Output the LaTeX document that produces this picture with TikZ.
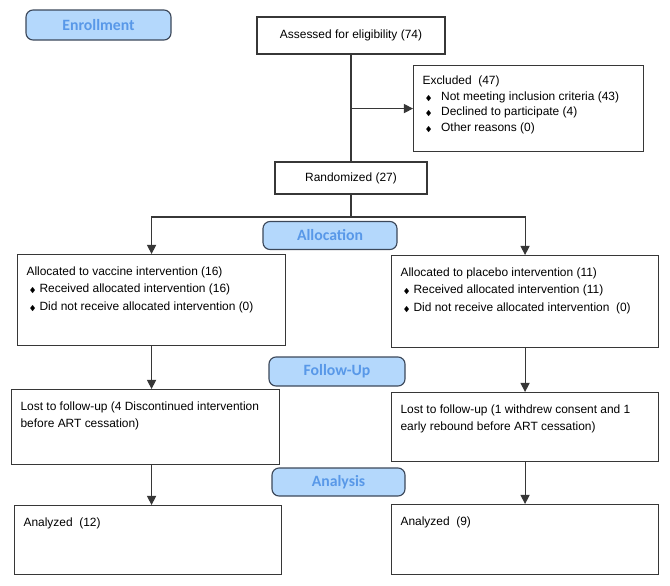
\documentclass[tikz,border=0pt]{standalone}
\usepackage{amssymb}
\usepackage{fontspec}
\setmainfont{Liberation Sans}
\newfontfamily\stagefont{Carlito}
\usetikzlibrary{arrows.meta,positioning}
\definecolor{stagefill}{RGB}{180,216,252}
\definecolor{stagetext}{RGB}{88,152,232}
\definecolor{stageline}{RGB}{60,72,90}
\definecolor{boxline}{RGB}{55,55,55}
% text of a box, top aligned: #1 box height, #2 box width
\newcommand{\cell}[3]{\parbox[t][\dimexpr#1-12pt\relax][t]{\dimexpr#2-0.45cm\relax}{\raggedright\strut#3}}
\newcommand{\bul}{\hspace*{2pt}{\tiny$\blacklozenge$}\hspace{2.5pt}}

\begin{document}
\begin{tikzpicture}[
    stage/.style={draw=stageline,fill=stagefill,rounded corners=5pt,line width=0.8pt,text=stagetext,inner sep=0pt,minimum width=3.35cm,minimum height=0.7cm,font=\stagefont\bfseries\fontsize{11.2}{13}\selectfont},
    box/.style={draw=boxline,line width=0.8pt,anchor=north west,inner xsep=0.225cm,inner ysep=6pt,font=\fontsize{8.5}{12.4}\selectfont},
    plain/.style={draw=boxline,line width=0.8pt,inner sep=0pt,font=\fontsize{8.5}{10}\selectfont},
    arrow/.style={-{Triangle[width=6.5pt,length=6.5pt]},line width=0.8pt,color=boxline},
    line/.style={line width=0.8pt,color=boxline},
]
\useasboundingbox (0,0) rectangle (16.75,-14.625);
% stages
\node[stage,minimum width=3.625cm,minimum height=0.75cm](enroll)at(2.4625,-0.625){Enrollment};
\node[stage](allocs)at(8.25,-5.8875){Allocation};
\node[stage,minimum width=3.4cm,minimum height=0.725cm](follows)at(8.425,-9.2875){Follow-Up};
\node[stage,minimum width=3.325cm](analysiss)at(8.4625,-12.05){Analysis};
% enrollment
\node[plain,minimum width=4.7cm,minimum height=0.925cm](assess)at(8.775,-0.8875){Assessed for eligibility (74)};
\node[box,font=\fontsize{8.5}{11}\selectfont](excl)at(10.325,-1.625){\cell{2.15cm}{5.75cm}{Excluded~ (47)\\
    \bul\hspace{4pt}Not meeting inclusion criteria (43)\\
    \bul\hspace{4pt}Declined to participate (4)\\
    \bul\hspace{4pt}Other reasons (0)}};
\node[plain,minimum width=3.8cm,minimum height=0.8cm](rand)at(8.775,-4.45){Randomized (27)};
% arms
\node[box](valloc)at(0.425,-6.35){\cell{2.275cm}{6.7cm}{Allocated to vaccine intervention (16)\\
    \bul Received allocated intervention (16)\\
    \bul Did not receive allocated intervention (0)}};
\node[box](palloc)at(9.775,-6.375){\cell{2.3cm}{6.675cm}{Allocated to placebo intervention (11)\\
    \bul Received allocated intervention (11)\\
    \bul Did not receive allocated intervention~ (0)}};
\node[box](vlost)at(0.275,-9.725){\cell{1.875cm}{6.7cm}{Lost to follow-up (4 Discontinued intervention\\before ART cessation)}};
\node[box](plost)at(9.775,-9.8){\cell{1.725cm}{6.675cm}{Lost to follow-up (1 withdrew consent and 1\\early rebound before ART cessation)}};
\node[box](vanal)at(0.35,-12.625){\cell{1.725cm}{6.675cm}{Analyzed~ (12)}};
\node[box](panal)at(9.775,-12.6){\cell{1.75cm}{6.675cm}{Analyzed~ (9)}};
% connectors
\coordinate(split)at(8.775,-5.425);
\draw[line](assess.south)--(rand.north);
\draw[arrow](assess.south|-excl.west)--(excl.west);
\draw[line](rand.south)--(split);
\draw[arrow](split)-|(valloc.north);
\draw[arrow](split)-|(palloc.north);
\draw[arrow](valloc.south)--(valloc.south|-vlost.north);
\draw[arrow](palloc.south)--(palloc.south|-plost.north);
\draw[arrow](vlost.south-|valloc.south)--(vanal.north-|valloc.south);
\draw[arrow](plost.south-|palloc.south)--(panal.north-|palloc.south);
\end{tikzpicture}
\end{document}
